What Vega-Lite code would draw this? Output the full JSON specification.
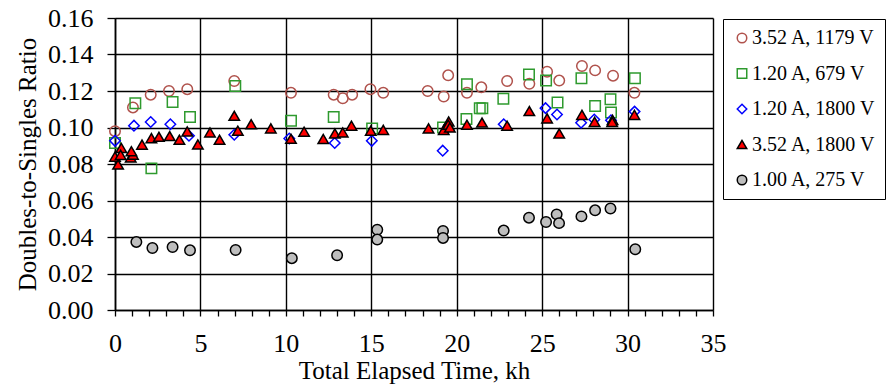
{
  "$schema": "https://vega.github.io/schema/vega-lite/v6.json",
  "autosize": {"type": "none"},
  "width": 598,
  "height": 292,
  "padding": {"left": 115, "top": 18, "right": 173, "bottom": 80},
  "background": "white",
  "config": {
    "font": "Liberation Serif",
    "view": {"stroke": null},
    "style": {
      "guide-label": {"font": "Liberation Serif", "fill": "black"},
      "guide-title": {"font": "Liberation Serif", "fill": "black"}
    },
    "axis": {
      "labelFont": "Liberation Serif",
      "titleFont": "Liberation Serif",
      "labelColor": "black",
      "titleColor": "black",
      "labelFontSize": 26,
      "titleFontSize": 25,
      "titleFontWeight": "normal",
      "domainColor": "black",
      "domainWidth": 1.6,
      "tickColor": "black",
      "tickWidth": 1.3,
      "gridColor": "black",
      "gridWidth": 1.4,
      "gridOpacity": 1
    },
    "legend": {
      "labelFont": "Liberation Serif",
      "labelFontSize": 20,
      "labelColor": "black"
    }
  },
  "data": {
    "values": [
      {"s": "3.52 A, 1179 V", "t": 0.0, "r": 0.098},
      {"s": "3.52 A, 1179 V", "t": 1.05, "r": 0.111},
      {"s": "3.52 A, 1179 V", "t": 2.09, "r": 0.118},
      {"s": "3.52 A, 1179 V", "t": 3.16, "r": 0.120},
      {"s": "3.52 A, 1179 V", "t": 4.23, "r": 0.121},
      {"s": "3.52 A, 1179 V", "t": 6.98, "r": 0.1255},
      {"s": "3.52 A, 1179 V", "t": 10.3, "r": 0.119},
      {"s": "3.52 A, 1179 V", "t": 12.8, "r": 0.118},
      {"s": "3.52 A, 1179 V", "t": 13.33, "r": 0.116},
      {"s": "3.52 A, 1179 V", "t": 13.88, "r": 0.118},
      {"s": "3.52 A, 1179 V", "t": 14.95, "r": 0.121},
      {"s": "3.52 A, 1179 V", "t": 15.7, "r": 0.119},
      {"s": "3.52 A, 1179 V", "t": 18.3, "r": 0.120},
      {"s": "3.52 A, 1179 V", "t": 19.24, "r": 0.117},
      {"s": "3.52 A, 1179 V", "t": 19.5, "r": 0.1286},
      {"s": "3.52 A, 1179 V", "t": 20.6, "r": 0.119},
      {"s": "3.52 A, 1179 V", "t": 21.44, "r": 0.122},
      {"s": "3.52 A, 1179 V", "t": 22.95, "r": 0.1255},
      {"s": "3.52 A, 1179 V", "t": 24.25, "r": 0.124},
      {"s": "3.52 A, 1179 V", "t": 25.29, "r": 0.1306},
      {"s": "3.52 A, 1179 V", "t": 26.0, "r": 0.1257},
      {"s": "3.52 A, 1179 V", "t": 27.33, "r": 0.1337},
      {"s": "3.52 A, 1179 V", "t": 28.1, "r": 0.1313},
      {"s": "3.52 A, 1179 V", "t": 29.15, "r": 0.1284},
      {"s": "3.52 A, 1179 V", "t": 30.4, "r": 0.119},
      {"s": "1.20 A, 679 V", "t": 0.0, "r": 0.0915},
      {"s": "1.20 A, 679 V", "t": 1.19, "r": 0.1133},
      {"s": "1.20 A, 679 V", "t": 2.13, "r": 0.0776},
      {"s": "1.20 A, 679 V", "t": 3.37, "r": 0.114},
      {"s": "1.20 A, 679 V", "t": 4.39, "r": 0.1057},
      {"s": "1.20 A, 679 V", "t": 7.04, "r": 0.1227},
      {"s": "1.20 A, 679 V", "t": 10.3, "r": 0.1037},
      {"s": "1.20 A, 679 V", "t": 12.8, "r": 0.1058},
      {"s": "1.20 A, 679 V", "t": 15.05, "r": 0.0995},
      {"s": "1.20 A, 679 V", "t": 19.2, "r": 0.100},
      {"s": "1.20 A, 679 V", "t": 20.6, "r": 0.1237},
      {"s": "1.20 A, 679 V", "t": 20.57, "r": 0.1046},
      {"s": "1.20 A, 679 V", "t": 21.35, "r": 0.1106},
      {"s": "1.20 A, 679 V", "t": 21.5, "r": 0.1106},
      {"s": "1.20 A, 679 V", "t": 22.73, "r": 0.1158},
      {"s": "1.20 A, 679 V", "t": 24.23, "r": 0.129},
      {"s": "1.20 A, 679 V", "t": 25.23, "r": 0.1258},
      {"s": "1.20 A, 679 V", "t": 25.9, "r": 0.1137},
      {"s": "1.20 A, 679 V", "t": 27.3, "r": 0.127},
      {"s": "1.20 A, 679 V", "t": 28.1, "r": 0.1118},
      {"s": "1.20 A, 679 V", "t": 29.0, "r": 0.1155},
      {"s": "1.20 A, 679 V", "t": 29.03, "r": 0.1082},
      {"s": "1.20 A, 679 V", "t": 30.43, "r": 0.127},
      {"s": "1.20 A, 1800 V", "t": 0.0, "r": 0.0927},
      {"s": "1.20 A, 1800 V", "t": 1.11, "r": 0.101},
      {"s": "1.20 A, 1800 V", "t": 2.09, "r": 0.103},
      {"s": "1.20 A, 1800 V", "t": 3.24, "r": 0.1018},
      {"s": "1.20 A, 1800 V", "t": 4.33, "r": 0.0955},
      {"s": "1.20 A, 1800 V", "t": 6.98, "r": 0.096},
      {"s": "1.20 A, 1800 V", "t": 10.2, "r": 0.094},
      {"s": "1.20 A, 1800 V", "t": 12.86, "r": 0.0915},
      {"s": "1.20 A, 1800 V", "t": 15.03, "r": 0.0927},
      {"s": "1.20 A, 1800 V", "t": 19.18, "r": 0.0873},
      {"s": "1.20 A, 1800 V", "t": 22.75, "r": 0.1018},
      {"s": "1.20 A, 1800 V", "t": 25.2, "r": 0.1106},
      {"s": "1.20 A, 1800 V", "t": 25.87, "r": 0.1071},
      {"s": "1.20 A, 1800 V", "t": 27.28, "r": 0.1026},
      {"s": "1.20 A, 1800 V", "t": 28.05, "r": 0.1044},
      {"s": "1.20 A, 1800 V", "t": 29.03, "r": 0.104},
      {"s": "1.20 A, 1800 V", "t": 30.41, "r": 0.1087},
      {"s": "3.52 A, 1800 V", "t": 0.0, "r": 0.084},
      {"s": "3.52 A, 1800 V", "t": 0.18, "r": 0.0797},
      {"s": "3.52 A, 1800 V", "t": 0.37, "r": 0.0888},
      {"s": "3.52 A, 1800 V", "t": 0.33, "r": 0.085},
      {"s": "3.52 A, 1800 V", "t": 0.92, "r": 0.0836},
      {"s": "3.52 A, 1800 V", "t": 1.05, "r": 0.0851},
      {"s": "3.52 A, 1800 V", "t": 0.96, "r": 0.087},
      {"s": "3.52 A, 1800 V", "t": 1.58, "r": 0.0906},
      {"s": "3.52 A, 1800 V", "t": 2.13, "r": 0.0942},
      {"s": "3.52 A, 1800 V", "t": 2.57, "r": 0.0949},
      {"s": "3.52 A, 1800 V", "t": 3.2, "r": 0.0953},
      {"s": "3.52 A, 1800 V", "t": 3.77, "r": 0.0933},
      {"s": "3.52 A, 1800 V", "t": 4.23, "r": 0.0978},
      {"s": "3.52 A, 1800 V", "t": 4.85, "r": 0.0907},
      {"s": "3.52 A, 1800 V", "t": 5.56, "r": 0.0973},
      {"s": "3.52 A, 1800 V", "t": 6.12, "r": 0.0933},
      {"s": "3.52 A, 1800 V", "t": 6.98, "r": 0.1064},
      {"s": "3.52 A, 1800 V", "t": 7.19, "r": 0.0982},
      {"s": "3.52 A, 1800 V", "t": 7.97, "r": 0.1018},
      {"s": "3.52 A, 1800 V", "t": 9.12, "r": 0.0995},
      {"s": "3.52 A, 1800 V", "t": 10.3, "r": 0.0938},
      {"s": "3.52 A, 1800 V", "t": 11.07, "r": 0.0977},
      {"s": "3.52 A, 1800 V", "t": 12.19, "r": 0.0937},
      {"s": "3.52 A, 1800 V", "t": 12.87, "r": 0.0967},
      {"s": "3.52 A, 1800 V", "t": 13.33, "r": 0.0973},
      {"s": "3.52 A, 1800 V", "t": 13.84, "r": 0.101},
      {"s": "3.52 A, 1800 V", "t": 14.97, "r": 0.0982},
      {"s": "3.52 A, 1800 V", "t": 15.7, "r": 0.0987},
      {"s": "3.52 A, 1800 V", "t": 18.35, "r": 0.0995},
      {"s": "3.52 A, 1800 V", "t": 19.24, "r": 0.0987},
      {"s": "3.52 A, 1800 V", "t": 19.53, "r": 0.1033},
      {"s": "3.52 A, 1800 V", "t": 19.5, "r": 0.1015},
      {"s": "3.52 A, 1800 V", "t": 19.6, "r": 0.100},
      {"s": "3.52 A, 1800 V", "t": 20.6, "r": 0.1015},
      {"s": "3.52 A, 1800 V", "t": 21.48, "r": 0.1027},
      {"s": "3.52 A, 1800 V", "t": 22.95, "r": 0.101},
      {"s": "3.52 A, 1800 V", "t": 24.25, "r": 0.109},
      {"s": "3.52 A, 1800 V", "t": 25.29, "r": 0.105},
      {"s": "3.52 A, 1800 V", "t": 26.0, "r": 0.0967},
      {"s": "3.52 A, 1800 V", "t": 27.33, "r": 0.1069},
      {"s": "3.52 A, 1800 V", "t": 28.07, "r": 0.1031},
      {"s": "3.52 A, 1800 V", "t": 29.12, "r": 0.1042},
      {"s": "3.52 A, 1800 V", "t": 29.1, "r": 0.103},
      {"s": "3.52 A, 1800 V", "t": 30.4, "r": 0.1069},
      {"s": "1.00 A, 275 V", "t": 1.25, "r": 0.0373},
      {"s": "1.00 A, 275 V", "t": 2.19, "r": 0.034},
      {"s": "1.00 A, 275 V", "t": 3.37, "r": 0.0345},
      {"s": "1.00 A, 275 V", "t": 4.39, "r": 0.0327},
      {"s": "1.00 A, 275 V", "t": 7.06, "r": 0.0329},
      {"s": "1.00 A, 275 V", "t": 10.35, "r": 0.0284},
      {"s": "1.00 A, 275 V", "t": 13.0, "r": 0.030},
      {"s": "1.00 A, 275 V", "t": 15.35, "r": 0.044},
      {"s": "1.00 A, 275 V", "t": 15.35, "r": 0.0386},
      {"s": "1.00 A, 275 V", "t": 19.2, "r": 0.0433},
      {"s": "1.00 A, 275 V", "t": 19.2, "r": 0.0395},
      {"s": "1.00 A, 275 V", "t": 22.75, "r": 0.0435},
      {"s": "1.00 A, 275 V", "t": 24.23, "r": 0.0506},
      {"s": "1.00 A, 275 V", "t": 25.23, "r": 0.0482},
      {"s": "1.00 A, 275 V", "t": 25.85, "r": 0.0524},
      {"s": "1.00 A, 275 V", "t": 25.99, "r": 0.0476},
      {"s": "1.00 A, 275 V", "t": 27.3, "r": 0.0513},
      {"s": "1.00 A, 275 V", "t": 28.1, "r": 0.0546},
      {"s": "1.00 A, 275 V", "t": 29.0, "r": 0.0556},
      {"s": "1.00 A, 275 V", "t": 30.45, "r": 0.0333}
    ]
  },
  "mark": {"type": "point", "filled": true, "opacity": 1, "strokeWidth": 1.5, "size": 110},
  "encoding": {
    "x": {
      "field": "t", "type": "quantitative",
      "scale": {"domain": [0, 35], "nice": false, "zero": false},
      "axis": {
        "title": "Total Elapsed Time, kh",
        "labelFont": "Liberation Serif",
        "titleFont": "Liberation Serif",
        "labelFontSize": 26,
        "values": [0,1,2,3,4,5,6,7,8,9,10,11,12,13,14,15,16,17,18,19,20,21,22,23,24,25,26,27,28,29,30,31,32,33,34,35],
        "labelExpr": "datum.value % 5 === 0 ? datum.label : ''",
        "gridOpacity": {"condition": {"test": "datum.value % 5 === 0", "value": 1}, "value": 0},
        "tickSize": 6,
        "labelPadding": 14,
        "titlePadding": 2,
        "labelFlush": false,
        "labelOverlap": false
      }
    },
    "y": {
      "field": "r", "type": "quantitative",
      "scale": {"domain": [0, 0.16], "nice": false},
      "axis": {
        "title": "Doubles-to-Singles Ratio",
        "labelFont": "Liberation Serif",
        "titleFont": "Liberation Serif",
        "labelFontSize": 26,
        "values": [0, 0.02, 0.04, 0.06, 0.08, 0.1, 0.12, 0.14, 0.16],
        "format": ".2f",
        "tickSize": 8,
        "labelPadding": 14,
        "titlePadding": 7,
        "labelFlush": false
      }
    },
    "shape": {
      "field": "s", "type": "nominal",
      "scale": {
        "domain": ["3.52 A, 1179 V", "1.20 A, 679 V", "1.20 A, 1800 V", "3.52 A, 1800 V", "1.00 A, 275 V"],
        "range": ["circle", "square", "diamond", "triangle-up", "circle"]
      },
      "legend": {
        "title": null,
        "orient": "none",
        "legendX": 608,
        "legendY": 1,
        "padding": 9,
        "rowPadding": 15.5,
        "strokeColor": "black",
        "symbolSize": 90,
        "symbolStrokeWidth": 1.5,
        "labelOffset": 0
      }
    },
    "fill": {
      "field": "s", "type": "nominal",
      "scale": {
        "domain": ["3.52 A, 1179 V", "1.20 A, 679 V", "1.20 A, 1800 V", "3.52 A, 1800 V", "1.00 A, 275 V"],
        "range": ["transparent", "transparent", "transparent", "#FF0000", "#BEBEBE"]
      },
      "legend": {"title": null}
    },
    "stroke": {
      "field": "s", "type": "nominal",
      "scale": {
        "domain": ["3.52 A, 1179 V", "1.20 A, 679 V", "1.20 A, 1800 V", "3.52 A, 1800 V", "1.00 A, 275 V"],
        "range": ["#B0524C", "#2E9A2E", "#0000FF", "#000000", "#000000"]
      },
      "legend": {"title": null}
    },
    "order": {"value": 0}
  }
}
